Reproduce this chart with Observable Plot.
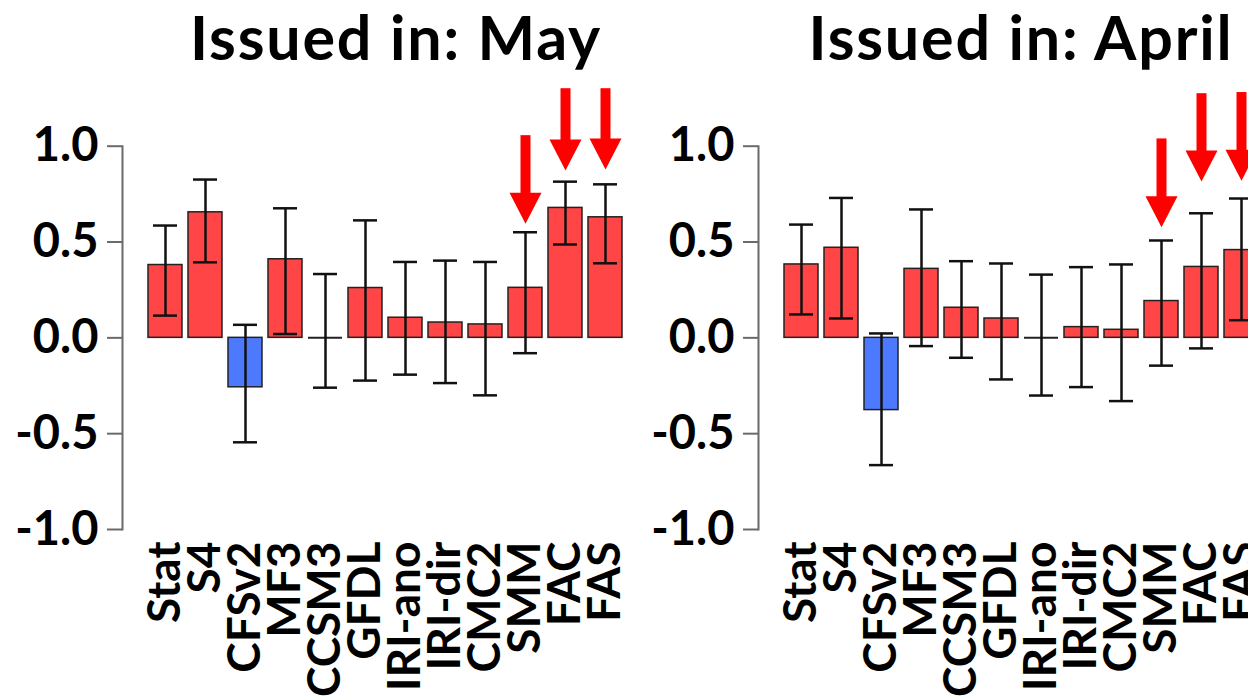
<!DOCTYPE html>
<html>
<head>
<meta charset="utf-8">
<script src="https://cdn.jsdelivr.net/npm/d3@7"></script>
<script src="https://cdn.jsdelivr.net/npm/@observablehq/plot@0.6"></script>
<style>
  html, body { margin: 0; padding: 0; background: #fff; overflow: hidden; }
  #page { position: relative; width: 1248px; height: 699px; overflow: hidden; font-family: Lato, "Open Sans", sans-serif; }
  .panel { position: absolute; top: 0; }
  .title { position: absolute; top: 0; transform: translateX(-50%); white-space: nowrap;
           font-family: Lato, sans-serif; font-weight: bold; font-size: 61px; line-height: normal;
           letter-spacing: 1.8px; color: #000; }
</style>
</head>
<body>
<div id="page"></div>
<script>
// ---- data ----
const models = ["Stat","S4","CFSv2","MF3","CCSM3","GFDL","IRI-ano","IRI-dir","CMC2","SMM","FAC","FAS"];

const mayValues = [0.38, 0.655, -0.258, 0.41, 0, 0.26, 0.105, 0.08, 0.07, 0.261, 0.678, 0.629];
const mayHigh   = [0.586, 0.826, 0.068, 0.676, 0.333, 0.613, 0.396, 0.403, 0.396, 0.551, 0.815, 0.801];
const mayLow    = [0.116, 0.394, -0.545, 0.02, -0.26, -0.223, -0.192, -0.236, -0.30, -0.08, 0.487, 0.389];

const aprValues = [0.383, 0.47, -0.377, 0.36, 0.157, 0.101, 0, 0.056, 0.042, 0.192, 0.37, 0.458];
const aprHigh   = [0.591, 0.73, 0.023, 0.67, 0.40, 0.388, 0.33, 0.369, 0.383, 0.508, 0.65, 0.727];
const aprLow    = [0.122, 0.101, -0.664, -0.043, -0.104, -0.217, -0.301, -0.257, -0.33, -0.145, -0.055, 0.092];

const arrowModels    = ["SMM", "FAC", "FAS"];
const mayArrowTips   = [0.596, 0.873, 0.878];
const mayArrowTails  = [1.055, 1.30, 1.30];
const aprArrowTips   = [0.577, 0.816, 0.82];
const aprArrowTails  = [1.038, 1.274, 1.28];

const yTicks = [-1, -0.5, 0, 0.5, 1];
const titles = ["Issued in: May", "Issued in: April"];

// ---- styles ----
const RED = "#ff4545", BLUE = "#4d79ff", EDGE = "#222", AXIS = "#6a6a6a", ARROW = "#ff0000";

const downTriangle = {
  draw(ctx) {
    ctx.moveTo(-16, -31);
    ctx.lineTo(16, -31);
    ctx.lineTo(0, 0);
    ctx.closePath();
  }
};

function panel(values, highs, lows, tips, tails) {
  const data = models.map((m, i) => ({model: m, value: values[i], high: highs[i], low: lows[i]}));
  const arrows = arrowModels.map((m, i) => ({model: m, tip: tips[i], tail: tails[i]}));
  return Plot.plot({
    width: 660,
    height: 699,
    marginLeft: 122,
    marginRight: 13,
    marginTop: 145.7,
    marginBottom: 170,
    style: {background: "transparent", overflow: "visible", maxWidth: "none",
            fontFamily: "Lato, 'Open Sans', sans-serif", fontWeight: "bold", color: "#000"},
    x: {domain: models, paddingInner: 0.16, paddingOuter: 0.52, axis: null},
    y: {domain: [-1, 1], axis: null},
    marks: [
      Plot.frame({anchor: "left", stroke: AXIS, strokeWidth: 2}),
      Plot.axisY({ticks: yTicks, tickFormat: d => d.toFixed(1), tickSize: 15, tickPadding: 9, label: null,
                  fontSize: 47, fontWeight: "bold", stroke: AXIS, strokeWidth: 2, fill: "#000"}),
      Plot.axisX({tickSize: 0, tickRotate: -90, tickPadding: 12, label: null,
                  fontSize: 46, fontWeight: "bold", fill: "#000"}),
      Plot.barY(data, {x: "model", y1: 0, y2: "value", fill: d => d.value < 0 ? BLUE : RED,
                       stroke: EDGE, strokeWidth: 1.5}),
      Plot.tickY(data.filter(d => d.value === 0), {x: "model", y: 0, stroke: EDGE, strokeWidth: 2}),
      Plot.ruleX(data, {x: "model", y1: "low", y2: "high", stroke: "#111", strokeWidth: 2.5}),
      Plot.tickY(data, {x: "model", y: "high", insetLeft: 5, insetRight: 5, stroke: "#111", strokeWidth: 2.5}),
      Plot.tickY(data, {x: "model", y: "low", insetLeft: 5, insetRight: 5, stroke: "#111", strokeWidth: 2.5}),
      Plot.ruleX(arrows, {x: "model", y1: "tail", y2: d => d.tip + 0.1, stroke: ARROW, strokeWidth: 10}),
      Plot.dot(arrows, {x: "model", y: "tip", symbol: downTriangle, fill: ARROW, stroke: "none", r: 5})
    ]
  });
}

const page = document.getElementById("page");
const panels = [
  {left: 0, titleX: 396, chart: panel(mayValues, mayHigh, mayLow, mayArrowTips, mayArrowTails)},
  {left: 636, titleX: 1021, chart: panel(aprValues, aprHigh, aprLow, aprArrowTips, aprArrowTails)}
];
panels.forEach((p, i) => {
  const div = document.createElement("div");
  div.className = "panel";
  div.style.left = p.left + "px";
  div.appendChild(p.chart);
  page.appendChild(div);
  const t = document.createElement("div");
  t.className = "title";
  t.style.left = p.titleX + "px";
  t.textContent = titles[i];
  page.appendChild(t);
});
</script>
</body>
</html>
